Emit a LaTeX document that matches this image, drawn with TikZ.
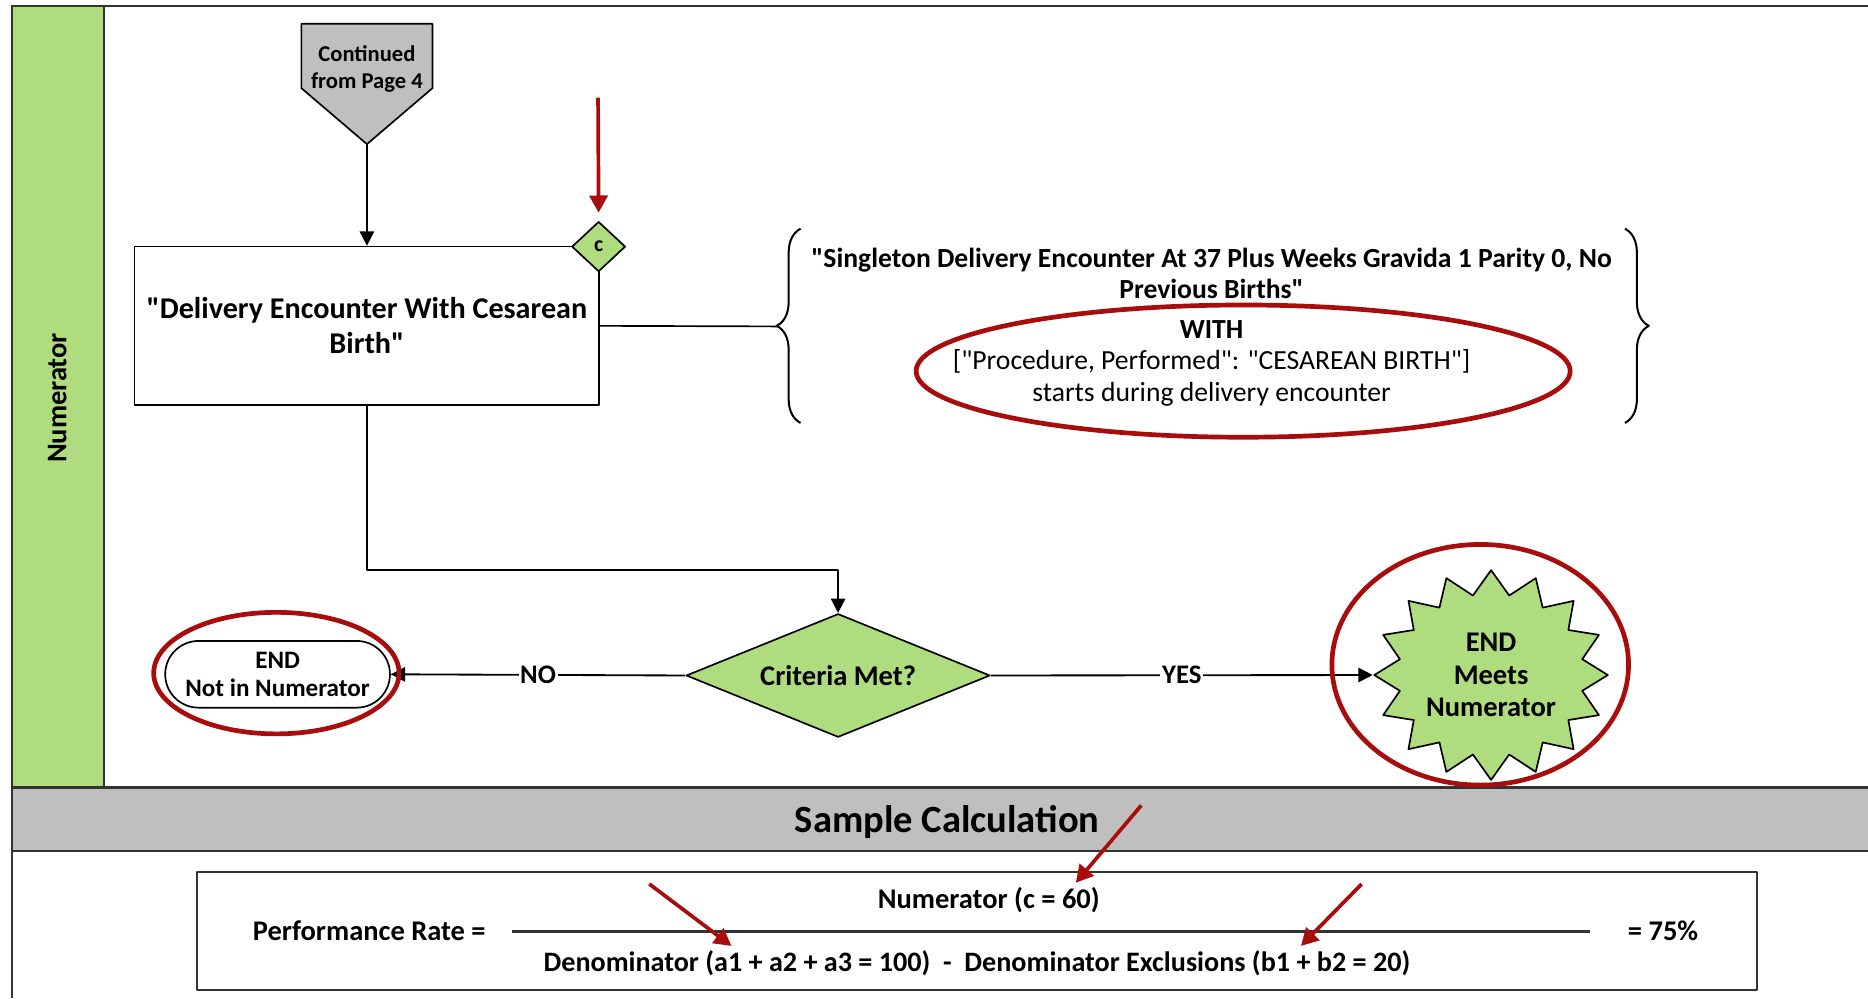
\documentclass[tikz,border=0pt]{standalone}
\usepackage{fontspec}
\setmainfont{Carlito}
\usetikzlibrary{arrows.meta,positioning,shapes.geometric,shapes.misc,shapes.symbols,decorations.pathreplacing}
\definecolor{lanegreen}{RGB}{176,220,128}
\definecolor{bandgray}{RGB}{191,191,191}
\definecolor{ringred}{RGB}{168,12,12}
\newcommand{\qd}{\textquotedbl}
\tikzset{
  flow/.style={-{Triangle[length=0.3cm,width=0.3cm]}, line width=1.1pt},
  redarrow/.style={-{Triangle[length=0.36cm,width=0.38cm]}, line width=2.2pt, ringred},
  ring/.style={line width=2.8pt, ringred},
  frame/.style={line width=1.2pt, black!80},
  bold/.style={font=\fontsize{17}{20}\selectfont\bfseries},
  lbl/.style={fill=white, inner sep=1pt, font=\fontsize{16}{19}\selectfont\bfseries},
  brace/.style={line width=1.2pt, decorate, decoration={brace, amplitude=0.5cm}}
}

\begin{document}
\begin{tikzpicture}[x=0.025cm, y=-0.025cm, line join=round]
\useasboundingbox (0,0) rectangle (1568,838);
\fill[bandgray] (10,661) rectangle (1568,714);
\draw[frame, fill=lanegreen] (10,5) rectangle (87,661);
\draw[frame] (10,838) -- (10,5) -- (1568,5);
\draw[frame, line width=1.8pt] (10,661) -- (1568,661);
\draw[frame] (10,714) -- (1568,714);
\node[rotate=90, bold] (lane) at (48,334) {Numerator};

\draw[fill=bandgray, line width=1pt] (253,20) -- (363,20) -- (363,74) -- (308,121) -- (253,74) -- cycle;
\coordinate (conttip) at (308,121);
\node[align=center, font=\fontsize{13.5}{16}\selectfont\bfseries] (cont) at (308,58) {Continued\\from Page 4};

\node[draw, line width=1pt, minimum width=9.75cm, minimum height=3.325cm, align=center,
  font=\fontsize{18}{21}\selectfont\bfseries] (deliv) at (308,273.5) {\qd Delivery Encounter With Cesarean\\Birth\qd};
\draw[flow] (conttip) -- (deliv.north);
\node[diamond, draw, fill=lanegreen, line width=1pt, minimum width=1.125cm, minimum height=1.05cm,
  inner sep=0pt, font=\fontsize{13}{15}\selectfont\bfseries] (cdia) at (502.5,207) {c};
\coordinate (ctop) at (502,82);
\draw[redarrow] (ctop) -- ([yshift=0.17cm]cdia.north);

\coordinate (bracetip) at (653,274);
\draw[line width=1pt] (deliv.east) -- (bracetip);
\draw[brace] (672,355) -- (672,192);
\draw[brace] (1364,192) -- (1364,355);
\node[align=center, font=\fontsize{16.5}{18.2}\selectfont\bfseries] (sde) at (1017,229.5)
  {\qd Singleton Delivery Encounter At 37 Plus Weeks Gravida 1 Parity 0, No\\Previous Births\qd};
\node[align=center, font=\fontsize{16.5}{18.8}\selectfont] (withc) at (1017,305)
  {\textbf{WITH}\\{[}\qd Procedure, Performed\qd: \qd CESAREAN BIRTH\qd{]}\\starts during delivery encounter};
\draw[ring] (1043.5,311.5) ellipse [x radius=274.5, y radius=55.5];

\node[diamond, draw, fill=lanegreen, line width=1pt, aspect=2.5, minimum width=6.375cm, minimum height=2.59cm,
  inner sep=0pt, bold] (crit) at (703.5,567) {Criteria Met?};
\draw[flow] (deliv.south) -- ++(0,138) -| (crit.north);

\node[rounded rectangle, draw, line width=1pt, minimum width=4.95cm, minimum height=1.4cm, align=center,
  font=\fontsize{15}{17}\selectfont\bfseries] (endno) at (233,566) {END\\Not in Numerator};
\draw[flow] (crit.west) -- node[lbl] {NO} (endno.east);
\draw[ring] (232,565) ellipse [x radius=103, y radius=51];

\node[starburst, starburst points=16, random starburst=0, starburst point height=0.5cm, draw, fill=lanegreen,
  line width=1pt, minimum width=4.9cm, minimum height=4.4cm, inner sep=0pt, align=center,
  font=\fontsize{17}{19.2}\selectfont\bfseries] (burst) at (1251.6,566.6) {END\\Meets\\Numerator};
\draw[flow] (crit.east) -- node[lbl] {YES} (burst.west);
\draw[ring] (1242.5,558) ellipse [x radius=124.5, y radius=101];

\node[font=\fontsize{23}{26}\selectfont\bfseries] (samp) at (795,690) {Sample Calculation};
\draw[frame] (165,732) rectangle (1475,831);
\node[bold] (perf) at (310,781) {Performance Rate =};
\node[bold] (num) at (830,755.5) {Numerator (c = 60)};
\node[font=\fontsize{16.8}{20}\selectfont\bfseries] (den) at (820,808.5)
  {Denominator (a1 + a2 + a3 = 100)\ \ -\ \ Denominator Exclusions (b1 + b2 = 20)};
\node[bold] (pct) at (1396,781) {= 75\%};
\draw[frame, line width=1.8pt] (430,781.5) -- (1335,781.5);
\foreach \sx/\sy/\ex/\ey in {958/676/903/741, 545/742/614/794, 1143/742/1092/794}
  \draw[redarrow] (\sx,\sy) -- (\ex,\ey);
\end{tikzpicture}
\end{document}
